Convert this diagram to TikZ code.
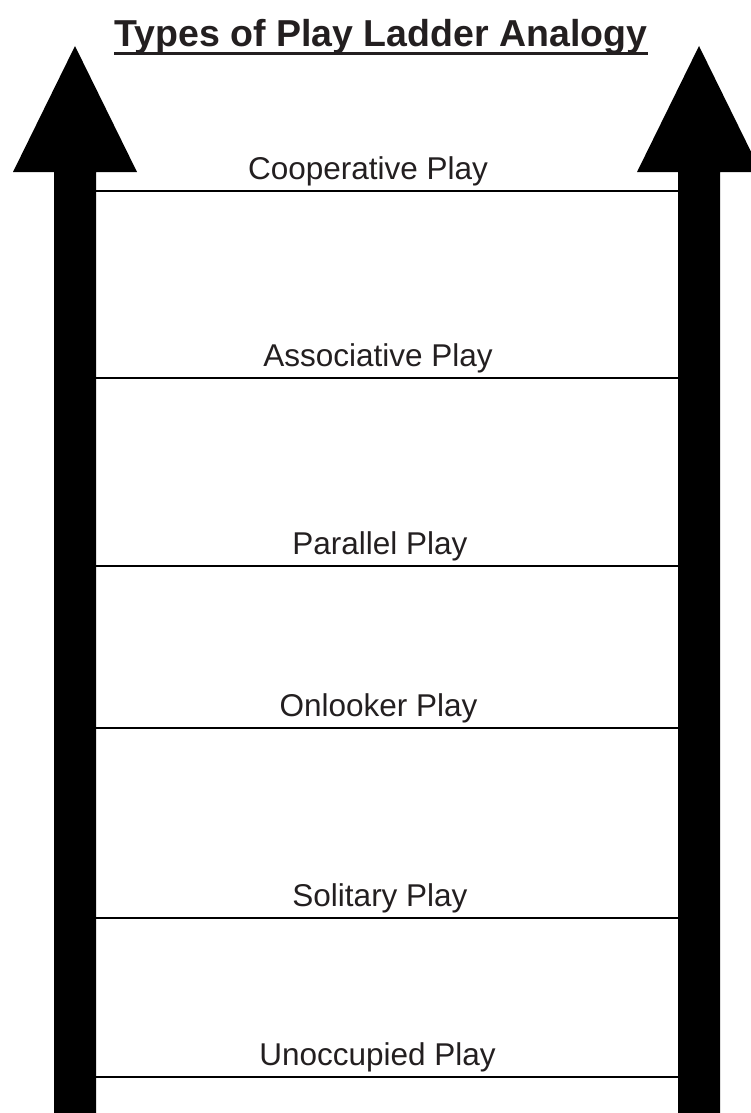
\documentclass[tikz,border=0pt]{standalone}
\usepackage{fontspec}
\setmainfont{Liberation Sans}
\usetikzlibrary{calc}
\definecolor{ink}{HTML}{231F20}
\begin{document}
\begin{tikzpicture}[x=1pt,y=-1pt,
  rail/.style={fill=black,draw=none},
  rung/.style={draw=black,line width=2pt},
  lbl/.style={anchor=base,inner sep=0pt,text=ink,font=\fontsize{31.5}{36}\selectfont},
  ttl/.style={anchor=base,inner sep=0pt,text=ink,font=\bfseries\fontsize{37.5}{42}\selectfont}]
\useasboundingbox (0,0) rectangle (751,1113);
\clip (0,0) rectangle (751,1113);
\fill[white] (0,0) rectangle (751,1113);
% left arrow
\fill[rail] (75,46) -- (137,172) -- (96,172) -- (96,1120) -- (54,1120) -- (54,172) -- (13,172) -- cycle;
% right arrow
\fill[rail] (699,46) -- (761,172) -- (720,172) -- (720,1120) -- (678,1120) -- (678,172) -- (637,172) -- cycle;
% title
\node[ttl] (title) at (381,47) {Types of Play Ladder Analogy};
\draw[ink,line width=2.8pt] ($(title.base west)+(0,6.5)$) -- ($(title.base east)+(0,6.5)$);
% rungs
\foreach \n/\y/\x/\t in {coop/190.7/368/Cooperative Play, assoc/377.7/378/Associative Play, par/565.7/380/Parallel Play, onl/728/378.5/Onlooker Play, sol/917.7/380/Solitary Play, unocc/1076.7/377.5/Unoccupied Play}{
  \coordinate (\n L) at (96,\y);
  \coordinate (\n R) at (678,\y);
  \draw[rung] (\n L) -- (\n R);
  \node[lbl] (\n) at (\x,\y-11.5) {\t};
}
\end{tikzpicture}
\end{document}
